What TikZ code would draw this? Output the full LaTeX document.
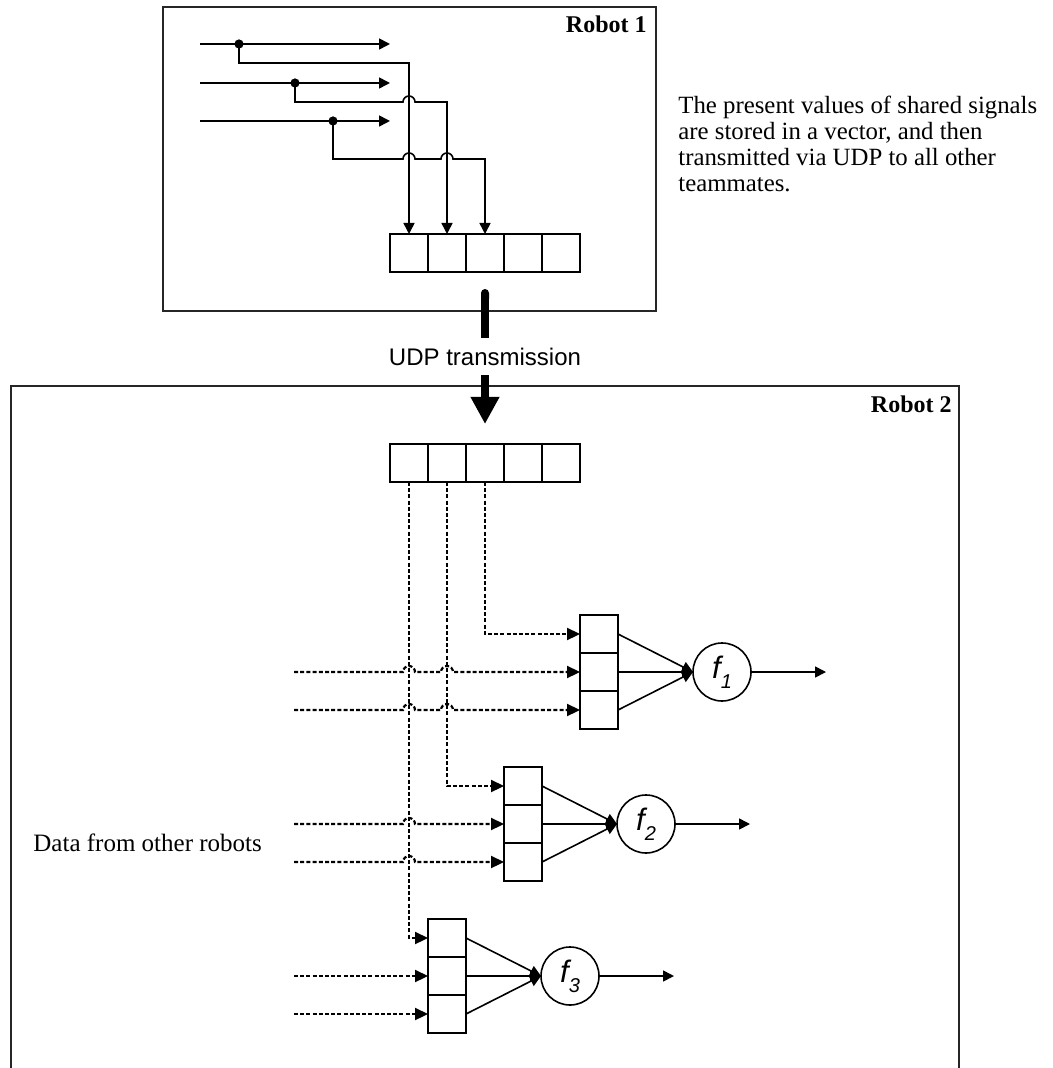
\documentclass[tikz,border=0pt]{standalone}
\usepackage{fontspec}
\setmainfont{Liberation Serif}
\setsansfont{Liberation Sans}
\usetikzlibrary{arrows.meta, positioning}
\newcommand{\fsub}[1]{f\raisebox{-5pt}{\fontsize{10}{10}\selectfont #1}}

\begin{document}
\begin{tikzpicture}[
        x=0.5pt, y=-0.5pt,
        node distance=0pt,
        robotbox/.style={draw=black!85, line width=0.8pt},
        cell/.style={rectangle, draw, minimum width=19pt, minimum height=19pt, inner sep=0pt, outer sep=0pt, line width=0.8pt},
        func/.style={circle, draw, minimum size=29pt, inner sep=0pt, outer sep=0pt, line width=0.8pt, font=\sffamily\itshape\fontsize{15.5}{15.5}\selectfont},
        arrow/.style={-{Triangle[length=5.5pt,width=5.5pt]}, line width=0.8pt},
        dataline/.style={-{Triangle[length=6.5pt,width=6pt]}, line width=1.1pt, dash pattern=on 2pt off 1.1pt},
        title/.style={font=\bfseries\fontsize{12}{14}\selectfont, inner sep=0pt},
        note/.style={font=\fontsize{12.4}{12.95}\selectfont, align=left, inner sep=0pt}
    ]
    \useasboundingbox (0,0) rectangle (1052,1068);

    % Robot 1: sender
    \draw[robotbox] (163,7) rectangle (656,311);
    \node[title, anchor=base east] (r1title) at (647,33) {Robot 1};

    \node[cell] (tx1) at (409,253) {};
    \node[cell, right=of tx1] (tx2) {};
    \node[cell, right=of tx2] (tx3) {};
    \node[cell, right=of tx3] (tx4) {};
    \node[cell, right=of tx4] (tx5) {};

    \coordinate (in1) at (200,44);
    \coordinate (in2) at (200,83);
    \coordinate (in3) at (200,121);
    \coordinate (sig1) at (390,44);
    \coordinate (sig2) at (390,83);
    \coordinate (sig3) at (390,121);
    \coordinate (j1) at (239,44);
    \coordinate (j2) at (295,83);
    \coordinate (j3) at (333,121);

    \draw[arrow] (in1) -- (sig1);
    \draw[arrow] (in2) -- (sig2);
    \draw[arrow] (in3) -- (sig3);
    \fill (j1) circle[radius=2.3pt];
    \fill (j2) circle[radius=2.3pt];
    \fill (j3) circle[radius=2.3pt];

    \draw[arrow] (j1) -- (239,63) -| (tx1.north);
    \draw[arrow] (j2) -- (295,102) -- (403,102) arc[start angle=180, end angle=0, radius=3pt] -| (tx2.north);
    \draw[arrow] (j3) -- (333,159) -- (403,159) arc[start angle=180, end angle=0, radius=3pt]
        -- (441,159) arc[start angle=180, end angle=0, radius=3pt] -| (tx3.north);

    \node[note, anchor=north west] (note) at (678,96) {The present values of shared signals\\are stored in a vector, and then\\transmitted via UDP to all other\\teammates.};

    % Robot 2: receiver
    \draw[robotbox] (11,1068) -- (11,386) -- (959,386) -- (959,1068);
    \node[title, anchor=base east] (r2title) at (952,413) {Robot 2};

    \node[cell] (rx1) at (409,463) {};
    \node[cell, right=of rx1] (rx2) {};
    \node[cell, right=of rx2] (rx3) {};
    \node[cell, right=of rx3] (rx4) {};
    \node[cell, right=of rx4] (rx5) {};

    % UDP link
    \node[anchor=base, font=\sffamily\fontsize{12}{12}\selectfont, text height=12pt, text depth=2.5pt, inner xsep=0pt, inner ysep=2pt] (udp) at (485,366) {UDP transmission};
    \draw[line width=4pt, {Round Cap[]}-] ([yshift=-8.5pt]tx3.south) -- (udp.north);
    \draw[-{Triangle[length=13.5pt,width=13.5pt]}, line width=4pt, shorten >=10pt] (udp.south) -- (rx3.north);

    % function blocks
    \node[cell] (a1) at (599,634) {};
    \node[cell, below=of a1] (a2) {};
    \node[cell, below=of a2] (a3) {};
    \node[func] (f1) at (722,672) {\fsub{1}};

    \node[cell] (b1) at (523,786) {};
    \node[cell, below=of b1] (b2) {};
    \node[cell, below=of b2] (b3) {};
    \node[func] (f2) at (646,824) {\fsub{2}};

    \node[cell] (c1) at (447,938) {};
    \node[cell, below=of c1] (c2) {};
    \node[cell, below=of c2] (c3) {};
    \node[func] (f3) at (570,976) {\fsub{3}};

    \coordinate (out1) at (826,672);
    \coordinate (out2) at (750,824);
    \coordinate (out3) at (674,976);

    \coordinate (d1) at (294,672);
    \coordinate (d2) at (294,710);
    \coordinate (d3) at (294,824);
    \coordinate (d4) at (294,862);
    \coordinate (d5) at (294,976);
    \coordinate (d6) at (294,1014);

    \node[anchor=base west, font=\fontsize{12.5}{14}\selectfont, inner sep=0pt] (ext) at (33,851) {Data from other robots};

    % shared values
    \draw[dataline] (rx3.south) |- (a1.west);
    \draw[dataline] (rx2.south) |- (b1.west);
    \draw[dataline] (rx1.south) |- (c1.west);

    % values from the other robots
    \draw[dataline] (d1) -- (403,672) arc[start angle=180, end angle=0, radius=3pt]
        -- (441,672) arc[start angle=180, end angle=0, radius=3pt] -- (a2.west);
    \draw[dataline] (d2) -- (403,710) arc[start angle=180, end angle=0, radius=3pt]
        -- (441,710) arc[start angle=180, end angle=0, radius=3pt] -- (a3.west);
    \draw[dataline] (d3) -- (403,824) arc[start angle=180, end angle=0, radius=3pt] -- (b2.west);
    \draw[dataline] (d4) -- (403,862) arc[start angle=180, end angle=0, radius=3pt] -- (b3.west);
    \draw[dataline] (d5) -- (c2.west);
    \draw[dataline] (d6) -- (c3.west);

    \draw[arrow] (a1.east) -- (f1.west);
    \draw[arrow] (a2.east) -- (f1.west);
    \draw[arrow] (a3.east) -- (f1.west);
    \draw[arrow] (f1.east) -- (out1);

    \draw[arrow] (b1.east) -- (f2.west);
    \draw[arrow] (b2.east) -- (f2.west);
    \draw[arrow] (b3.east) -- (f2.west);
    \draw[arrow] (f2.east) -- (out2);

    \draw[arrow] (c1.east) -- (f3.west);
    \draw[arrow] (c2.east) -- (f3.west);
    \draw[arrow] (c3.east) -- (f3.west);
    \draw[arrow] (f3.east) -- (out3);
\end{tikzpicture}
\end{document}
